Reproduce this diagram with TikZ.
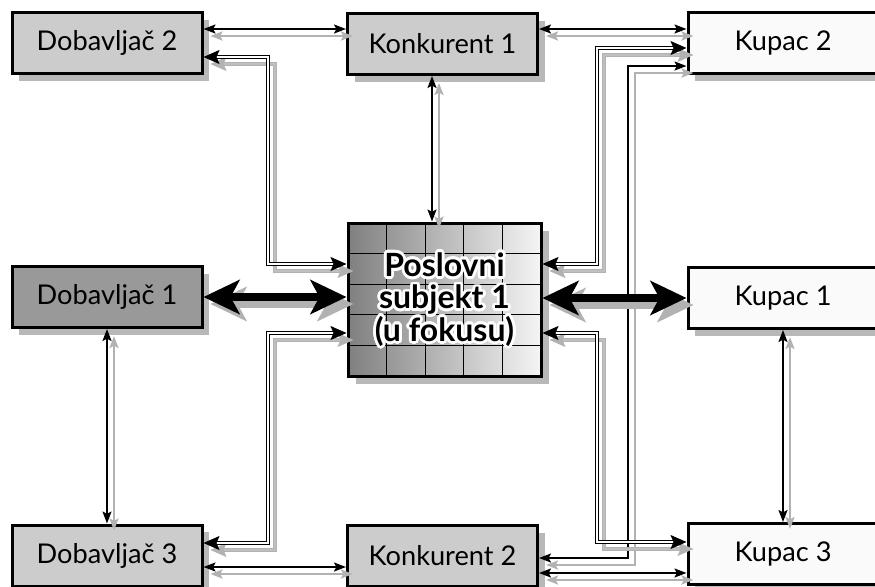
\documentclass[tikz,border=0pt]{standalone}
\usepackage{fontspec}
\setmainfont{Lato}
\usetikzlibrary{arrows.meta,shadows,calc}

% every link is drawn twice: its grey shadow, then the link itself
\newcommand\spoj[2]{%
  \draw[#1, #1 ghost, ghost] #2;
  \draw[#1] #2;}

\begin{document}
\begin{tikzpicture}[
  x=0.5pt, y=-0.5pt,
  box/.style={draw, line width=1.5pt, minimum width=95pt, minimum height=30.5pt, inner sep=0pt,
    font=\fontsize{13.6}{15}\selectfont,
    drop shadow={shadow xshift=3.5pt, shadow yshift=-3.5pt, fill=black!28, opacity=1}},
  firmabox/.style={draw, line width=1.5pt, minimum width=96.5pt, minimum height=76.5pt, inner sep=0pt,
    left color=black!50, right color=black!4,
    drop shadow={shadow xshift=4pt, shadow yshift=-4pt, fill=black!28, opacity=1},
    path picture={
      \foreach \i in {1,...,4}{
        \draw[line width=0.6pt]
          ($(path picture bounding box.north west)!\i/5!(path picture bounding box.north east)$) --
          ($(path picture bounding box.south west)!\i/5!(path picture bounding box.south east)$);
        \draw[line width=0.6pt]
          ($(path picture bounding box.north west)!\i/5!(path picture bounding box.south west)$) --
          ($(path picture bounding box.north east)!\i/5!(path picture bounding box.south east)$);
      }}},
  firmatext/.style={align=center, font=\bfseries\fontsize{16}{16.2}\selectfont}
]
\tikzset{
  ghost/.style={draw=black!30, transform canvas={shift={(3.5pt,-3.5pt)}}},
  tanka/.style={{Stealth[length=6pt,width=4.5pt,inset=1.2pt]}-{Stealth[length=6pt,width=4.5pt,inset=1.2pt]}, line width=1pt},
  tanka ghost/.style={line width=1.4pt},
  dupla/.style={{Stealth[length=8pt,width=7pt,inset=1.5pt]}-{Stealth[length=8pt,width=7pt,inset=1.5pt]},
    draw=black, line width=0.45pt, double=white, double distance=1.1pt},
  dupla ghost/.style={double=black!25},
  debela/.style={{Stealth[length=18pt,width=17pt,inset=4.5pt]}-{Stealth[length=18pt,width=17pt,inset=4.5pt]}, line width=4pt},
  debela ghost/.style={}
}
\useasboundingbox (0,0) rectangle (875,586);

% boxes
\node[box, fill=black!20] (dob2) at (107,43) {Dobavljač 2};
\node[box, fill=black!20] (kon1) at (442.5,44) {Konkurent 1};
\node[box, fill=black!2] (kup2) at (783,43) {Kupac 2};
\node[box, fill=black!40] (dob1) at (107,297) {Dobavljač 1};
\node[firmabox] (firma) at (444.5,299.5) {};
\node[box, fill=black!2] (kup1) at (783,298) {Kupac 1};
\node[box, fill=black!20] (dob3) at (107,555.5) {Dobavljač 3};
\node[box, fill=black!20] (kon2) at (442.5,556) {Konkurent 2};
\node[box, fill=black!2] (kup3) at (783,554) {Kupac 3};

% label of the firm in focus, with a white halo
\foreach \a in {0,22.5,...,337.5}
  \node[firmatext, text=white] at ([shift={(\a:1.4pt)}]firma.center) {Poslovni\\subjekt 1\\(u fokusu)};
\node[firmatext] (firmalabel) at (firma.center) {Poslovni\\subjekt 1\\(u fokusu)};

% lanes and corners
\coordinate (top) at (0,29);
\coordinate (mid) at (432,0);
\coordinate (bot1) at (0,567);
\coordinate (bot2) at (0,573);
\coordinate (l1) at (268,57);
\coordinate (l2) at (268,264);
\coordinate (l3) at (268,333);
\coordinate (l4) at (268,543);
\coordinate (r1) at (597,264);
\coordinate (r2) at (597,48);
\coordinate (r3) at (597,333);
\coordinate (r4) at (597,542);
\coordinate (r5) at (628,558);
\coordinate (r6) at (628,66);

% links
\spoj{tanka}{(dob2.east |- top) -- (kon1.west |- top)}
\spoj{tanka}{(kon1.east |- top) -- (kup2.west |- top)}
\spoj{tanka}{(kon1.south -| mid) -- (firma.north -| mid)}
\spoj{tanka}{(dob1.south) -- (dob3.north)}
\spoj{tanka}{(kup1.south) -- (kup3.north)}
\spoj{tanka}{(dob3.east |- bot1) -- (kon2.west |- bot1)}
\spoj{tanka}{(kon2.east |- bot2) -- (kup3.west |- bot2)}
\spoj{tanka}{(kon2.east |- r5) -- (r5) -- (r6) -- (kup2.west |- r6)}
\spoj{dupla}{(dob2.east |- l1) -- (l1) -- (l2) -- (firma.west |- l2)}
\spoj{dupla}{(firma.west |- l3) -- (l3) -- (l4) -- (dob3.east |- l4)}
\spoj{dupla}{(firma.east |- r1) -- (r1) -- (r2) -- (kup2.west |- r2)}
\spoj{dupla}{(firma.east |- r3) -- (r3) -- (r4) -- (kup3.west |- r4)}
\spoj{debela}{(dob1.east) -- (dob1.east -| firma.west)}
\spoj{debela}{(firma.east |- kup1.west) -- (kup1.west)}
\end{tikzpicture}
\end{document}
